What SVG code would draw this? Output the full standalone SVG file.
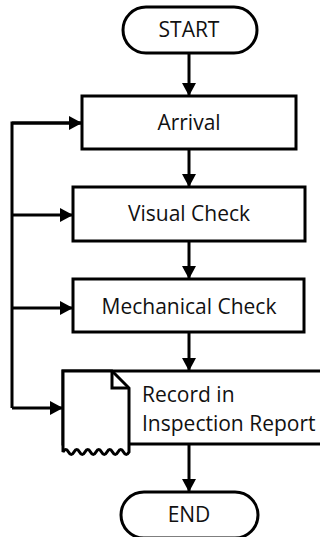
<svg xmlns="http://www.w3.org/2000/svg" width="320" height="537" viewBox="0 0 320 537">
<defs>
<marker id="ah" markerUnits="userSpaceOnUse" markerWidth="14" markerHeight="14" viewBox="0 0 14 14" refX="13" refY="7" orient="auto">
<path d="M0,0 L13,7 L0,14 Z" fill="#000"/>
</marker>
</defs>
<style>
.shape{fill:#fff;stroke:#000;stroke-width:3}
.line{fill:none;stroke:#000;stroke-width:3}
.arrow{fill:none;stroke:#000;stroke-width:3;marker-end:url(#ah)}
text{font-family:"Open Sans","Liberation Sans",sans-serif;font-size:21px;fill:#111}
.c{text-anchor:middle}
</style>
<g id="connectors">
<line class="arrow" x1="189" y1="53" x2="189" y2="96"/>
<line class="arrow" x1="189" y1="149" x2="189" y2="187"/>
<line class="arrow" x1="189" y1="241" x2="189" y2="279"/>
<line class="arrow" x1="189" y1="332" x2="189" y2="371"/>
<line class="arrow" x1="189" y1="444" x2="189" y2="492"/>
<polyline class="line" points="81,123 12,123 12,408"/>
<line class="arrow" x1="12" y1="123" x2="82" y2="123"/>
<line class="arrow" x1="12" y1="215" x2="73" y2="215"/>
<line class="arrow" x1="12" y1="308" x2="73" y2="308"/>
<line class="arrow" x1="12" y1="408" x2="63" y2="408"/>
</g>
<g id="start">
<rect class="shape" x="123" y="7" width="134" height="46" rx="23"/>
<text class="c" x="189" y="37">START</text>
</g>
<g id="arrival">
<rect class="shape" x="82" y="96" width="214" height="53"/>
<text class="c" x="189" y="130">Arrival</text>
</g>
<g id="visual">
<rect class="shape" x="73" y="187" width="232" height="54"/>
<text class="c" x="189" y="221">Visual Check</text>
</g>
<g id="mechanical">
<rect class="shape" x="73" y="279" width="231" height="53"/>
<text class="c" x="189" y="314">Mechanical Check</text>
</g>
<g id="record">
<rect class="shape" x="63" y="371" width="270" height="73"/>
<path class="shape" d="M63,371 L63,452 q2.75,-5 5.5,0 t5.5,0 t5.5,0 t5.5,0 t5.5,0 t5.5,0 t5.5,0 t5.5,0 t5.5,0 t5.5,0 t5.5,0 t5.5,0 L129,388 L112,371 Z" stroke-linejoin="miter"/>
<path class="line" d="M112,372 L112,388 L129,388"/>
<text x="142" y="402">Record in</text>
<text x="142" y="431">Inspection Report</text>
</g>
<g id="end">
<rect class="shape" x="121" y="492" width="137" height="46" rx="23"/>
<text class="c" x="189" y="522">END</text>
</g>
</svg>
